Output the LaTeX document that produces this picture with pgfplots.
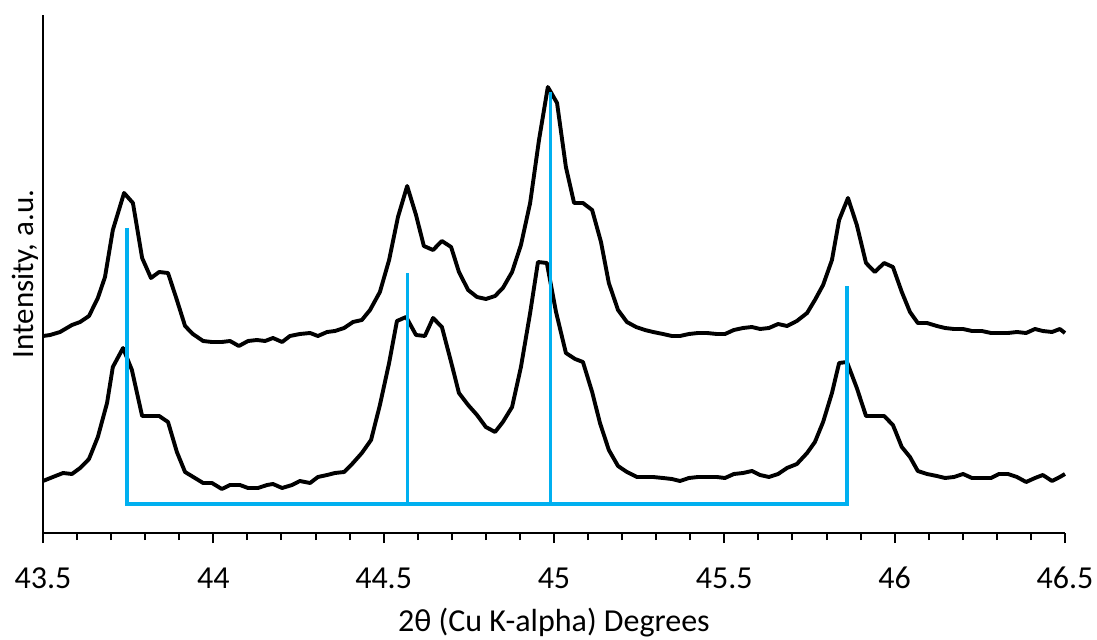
\documentclass[border=0pt]{standalone}
\usepackage{fontspec}
\setmainfont{Carlito}
\usepackage{pgfplots}
\pgfplotsset{compat=1.18}
\definecolor{refblue}{RGB}{0,176,240}
\begin{document}
\begin{tikzpicture}
\useasboundingbox (-43bp,-107bp) rectangle (1054bp,533bp);
\begin{axis}[
  width=1022bp, height=518bp, scale only axis,
  xmin=43.5, xmax=46.5, ymin=0, ymax=518,
  axis x line*=bottom, axis y line*=left,
  axis line style={-, line width=2bp, black},
  xtick={43.5,44,44.5,45,45.5,46,46.5},
  minor x tick num=4,
  ytick=\empty,
  tick align=outside,
  major tick length=10bp, minor tick length=7bp,
  every tick/.style={line width=2bp, black},
  /pgf/number format/assume math mode=true,
  xticklabel style={font=\fontsize{32bp}{38bp}\selectfont, anchor=base, yshift=-45bp},
  xlabel={2θ (Cu K-alpha) Degrees},
  ylabel={Intensity, a.u.},
  xlabel style={font=\fontsize{32bp}{38bp}\selectfont, at={(axis description cs:0.5,-0.1911)}, anchor=base},
  ylabel style={font=\fontsize{31bp}{37bp}\selectfont, at={(axis description cs:-0.00978,0.5)}, rotate=0, anchor=base},
  clip=false,
]
% upper pattern
\addplot[black, line width=3.9bp, line join=round] coordinates {
(43.500,197) (43.521,198) (43.550,201) (43.585,208) (43.609,211) (43.635,217)
(43.661,235) (43.682,256) (43.705,303) (43.738,340) (43.764,330) (43.791,275)
(43.817,255) (43.841,261) (43.867,260) (43.893,233) (43.917,207) (43.940,199)
(43.970,192) (43.996,191) (44.025,191) (44.049,192) (44.075,187) (44.102,192)
(44.128,193) (44.152,192) (44.175,195) (44.202,191) (44.225,197) (44.254,199)
(44.284,200) (44.307,197) (44.334,201) (44.357,202) (44.384,205) (44.410,211)
(44.436,213) (44.460,223) (44.489,241) (44.516,273) (44.542,316) (44.569,347)
(44.595,318) (44.618,287) (44.645,283) (44.671,292) (44.698,286) (44.721,261)
(44.748,243) (44.774,236) (44.800,234) (44.827,237) (44.850,245) (44.877,261)
(44.903,288) (44.930,330) (44.956,393) (44.982,446) (45.009,430) (45.035,366)
(45.059,330) (45.085,330) (45.112,323) (45.138,291) (45.161,250) (45.188,223)
(45.214,211) (45.241,206) (45.267,203) (45.291,201) (45.320,199) (45.346,197)
(45.370,197) (45.396,199) (45.423,200) (45.449,200) (45.478,199) (45.502,199)
(45.528,203) (45.555,205) (45.581,206) (45.605,204) (45.631,205) (45.658,209)
(45.684,207) (45.713,212) (45.743,220) (45.766,233) (45.790,248) (45.816,273)
(45.837,313) (45.863,335) (45.889,308) (45.916,270) (45.942,261) (45.969,270)
(45.995,266) (46.021,241) (46.045,221) (46.068,210) (46.095,210) (46.124,207)
(46.148,205) (46.174,204) (46.201,204) (46.227,202) (46.256,202) (46.283,200)
(46.306,200) (46.333,200) (46.359,201) (46.386,200) (46.412,204) (46.435,202)
(46.462,201) (46.485,204) (46.500,200)
};
% lower pattern
\addplot[black, line width=3.9bp, line join=round] coordinates {
(43.500,52) (43.529,56) (43.559,60) (43.585,59) (43.609,65) (43.635,74)
(43.661,96) (43.688,130) (43.705,166) (43.735,185) (43.761,163) (43.791,117)
(43.814,117) (43.841,117) (43.867,111) (43.893,81) (43.917,61) (43.946,55)
(43.970,50) (43.996,50) (44.025,44) (44.049,48) (44.078,48) (44.102,45)
(44.131,45) (44.158,48) (44.175,49) (44.202,45) (44.231,48) (44.254,52)
(44.284,50) (44.307,56) (44.334,58) (44.357,60) (44.384,61) (44.410,70)
(44.436,80) (44.463,93) (44.489,128) (44.516,170) (44.539,212) (44.566,216)
(44.595,198) (44.621,197) (44.645,215) (44.671,206) (44.698,171) (44.721,140)
(44.748,128) (44.774,118) (44.800,106) (44.827,101) (44.850,111) (44.877,126)
(44.903,166) (44.930,220) (44.953,271) (44.979,270) (45.006,221) (45.035,180)
(45.062,174) (45.085,171) (45.112,141) (45.135,110) (45.161,83) (45.188,67)
(45.214,61) (45.244,56) (45.267,56) (45.291,56) (45.320,55) (45.346,54)
(45.370,52) (45.396,55) (45.423,56) (45.449,56) (45.478,56) (45.502,55)
(45.528,59) (45.555,60) (45.581,62) (45.605,58) (45.631,56) (45.658,59)
(45.684,65) (45.713,69) (45.743,80) (45.766,91) (45.790,111) (45.816,140)
(45.837,170) (45.860,171) (45.889,145) (45.916,117) (45.942,117) (45.969,117)
(45.995,108) (46.021,86) (46.045,76) (46.068,62) (46.095,59) (46.124,57)
(46.148,55) (46.174,56) (46.201,59) (46.227,55) (46.256,55) (46.283,55)
(46.306,59) (46.333,59) (46.359,56) (46.386,51) (46.412,55) (46.435,58)
(46.462,52) (46.485,56) (46.500,59)
};
% reference lines
\addplot[refblue, line width=3.8bp, line join=miter] coordinates {
(43.747,305) (43.747,29) (45.859,29) (45.859,247)};
\addplot[refblue, line width=3.8bp] coordinates {(44.570,29) (44.570,260)};
\addplot[refblue, line width=3.8bp] coordinates {(44.990,29) (44.990,441)};
\end{axis}
\end{tikzpicture}
\end{document}
